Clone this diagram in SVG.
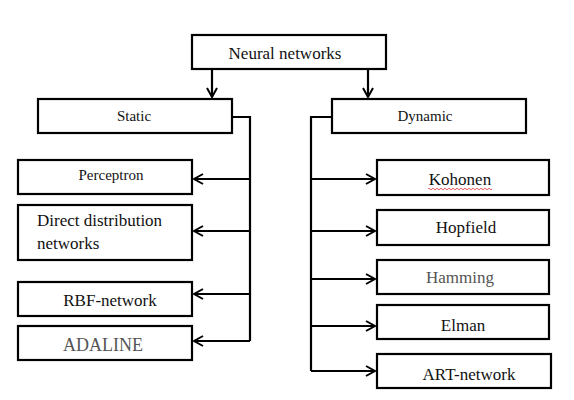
<svg xmlns="http://www.w3.org/2000/svg" width="574" height="400" viewBox="0 0 574 400">
<style>
.box{fill:#fff;stroke:#000;stroke-width:2.2}
.t{font-family:"Liberation Serif","Times New Roman",serif;font-size:17px;fill:#111;text-anchor:middle}
.s{font-size:15px}
.g{fill:#555}
.c{fill:none;stroke:#000;stroke-width:2.2}
</style>
<defs>
<marker id="ah" markerWidth="12" markerHeight="12" refX="10" refY="6" orient="auto" markerUnits="userSpaceOnUse">
<path d="M1,1 L10,6 L1,11" fill="none" stroke="#000" stroke-width="2"/>
</marker>
</defs>
<rect width="574" height="400" fill="#fff"/>
<g id="connectors">
<path class="c" d="M212,69 V97" marker-end="url(#ah)"/>
<path class="c" d="M368,69 V97" marker-end="url(#ah)"/>
<path class="c" d="M232,117 H250 V341"/>
<path class="c" d="M250,179 H194" marker-end="url(#ah)"/>
<path class="c" d="M250,231 H194" marker-end="url(#ah)"/>
<path class="c" d="M250,294 H194" marker-end="url(#ah)"/>
<path class="c" d="M250,341 H194" marker-end="url(#ah)"/>
<path class="c" d="M332,117 H311 V371"/>
<path class="c" d="M311,179 H375" marker-end="url(#ah)"/>
<path class="c" d="M311,231 H375" marker-end="url(#ah)"/>
<path class="c" d="M311,279 H375" marker-end="url(#ah)"/>
<path class="c" d="M311,326 H375" marker-end="url(#ah)"/>
<path class="c" d="M311,371 H375" marker-end="url(#ah)"/>
</g>
<g id="neural-networks"><rect class="box" x="192" y="35" width="194" height="34"/><text class="t" x="285" y="59">Neural networks</text></g>
<g id="static"><rect class="box" x="38" y="99" width="194" height="34"/><text class="t s" x="134" y="121">Static</text></g>
<g id="dynamic"><rect class="box" x="332" y="99" width="194" height="34"/><text class="t s" x="425" y="121">Dynamic</text></g>
<g id="perceptron"><rect class="box" x="18" y="160" width="174" height="34"/><text class="t s" x="111" y="180">Perceptron</text></g>
<g id="direct"><rect class="box" x="18" y="205" width="174" height="55"/><text class="t" x="37" y="226" style="text-anchor:start">Direct distribution</text><text class="t" x="37" y="249" style="text-anchor:start">networks</text></g>
<g id="rbf"><rect class="box" x="18" y="282" width="174" height="34"/><text class="t" x="110" y="306">RBF-network</text></g>
<g id="adaline"><rect class="box" x="18" y="326" width="174" height="34"/><text class="t g" x="103" y="351" style="font-size:18px">ADALINE</text></g>
<g id="kohonen"><rect class="box" x="377" y="160" width="172" height="35"/><text class="t" x="460" y="185">Kohonen</text><path d="M428,189 q1,-1.5 2,0 t2,0 t2,0 t2,0 t2,0 t2,0 t2,0 t2,0 t2,0 t2,0 t2,0 t2,0 t2,0 t2,0 t2,0 t2,0 t2,0 t2,0 t2,0 t2,0 t2,0 t2,0 t2,0 t2,0 t2,0 t2,0 t2,0 t2,0 t2,0 t2,0 t2,0 t2,0" fill="none" stroke="#d33" stroke-width="0.8"/></g>
<g id="hopfield"><rect class="box" x="377" y="210" width="172" height="35"/><text class="t" x="466" y="233">Hopfield</text></g>
<g id="hamming"><rect class="box" x="377" y="260" width="172" height="34"/><text class="t g" x="460" y="283">Hamming</text></g>
<g id="elman"><rect class="box" x="377" y="305" width="172" height="34"/><text class="t" x="463" y="331">Elman</text></g>
<g id="art"><rect class="box" x="377" y="354" width="174" height="34"/><text class="t" x="469" y="380">ART-network</text></g>
</svg>
